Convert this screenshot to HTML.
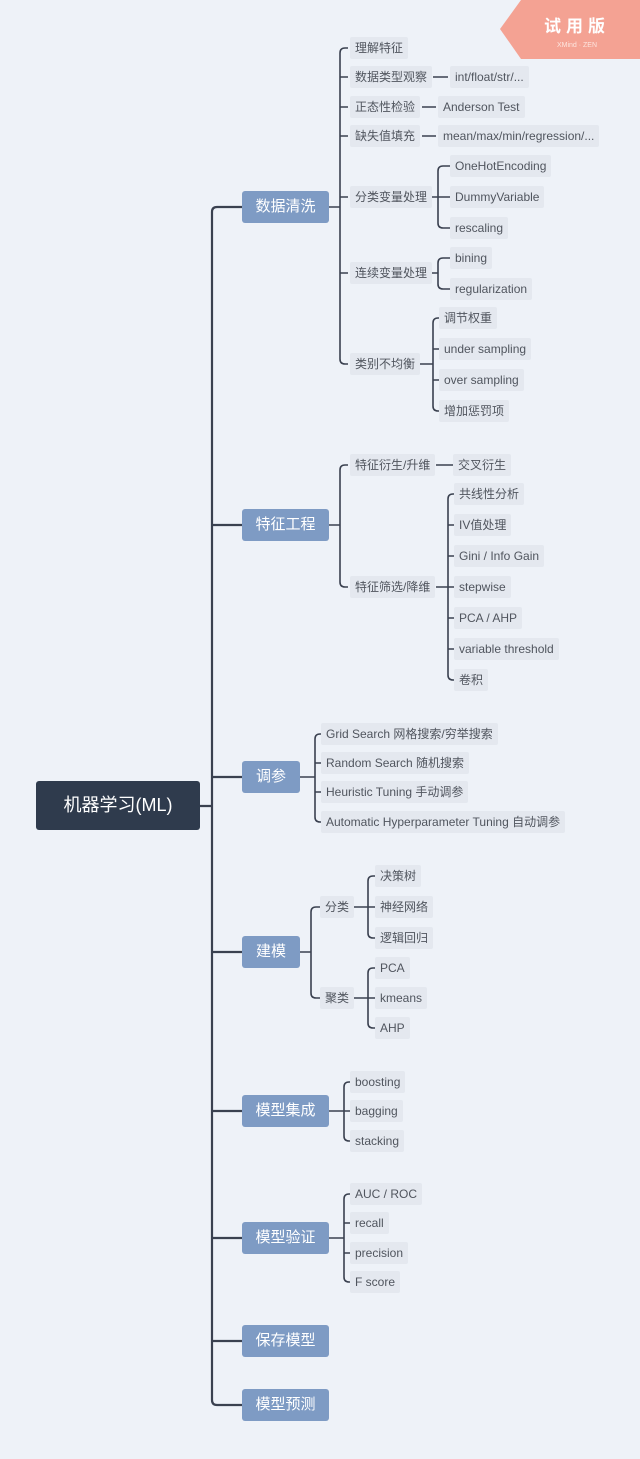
<!DOCTYPE html>
<html><head><meta charset="utf-8"><style>
body{margin:0;width:640px;height:1459px;background:#eef2f8;position:relative;overflow:hidden;font-family:"Liberation Sans","Noto Sans CJK SC",sans-serif}
svg{position:absolute;left:0;top:0}
.l{position:absolute;height:22px;line-height:22px;padding:0 5px;font-size:12px;color:#50555e;background:#e4e8ef;white-space:nowrap;border-radius:2px}
.m{position:absolute;height:32px;line-height:32px;text-align:center;color:#fff;font-size:15px;background:#7e9bc4;border-radius:3px}
.root{position:absolute;left:36px;top:781px;width:164px;height:49px;line-height:49px;text-align:center;color:#fff;font-size:18px;background:#2f3b4d;border-radius:3px}
</style></head><body>
<svg width="640" height="1459" fill="none" stroke="#3a4150" stroke-width="1.6">
<polygon points="521,0 640,0 640,59 521,59 500,29" fill="#f4a293" stroke="none"/>
<path stroke-width="2.2" d="M200 806H212M242 207H217Q212 207 212 212V1400Q212 1405 217 1405H242M212 525H242M212 777H242M212 952H242M212 1111H242M212 1238H242M212 1341H242"/>
<path d="M329 207H340M348 48H345Q340 48 340 53V359Q340 364 345 364H348M340 77H348M340 107H348M340 136H348M340 197H348M340 273H348"/>
<path d="M433 77H448M422 107H436M422 136H436"/>
<path d="M432 197H438M450 166H443Q438 166 438 171V223Q438 228 443 228H450M438 197H450"/>
<path d="M432 273H438M450 258H443Q438 258 438 263V284Q438 289 443 289H450"/>
<path d="M420 364H433M440 318H438Q433 318 433 323V406Q433 411 438 411H440M433 349H440M433 380H440"/>
<path d="M329 525H340M348 465H345Q340 465 340 470V582Q340 587 345 587H348"/>
<path d="M436 465H453M436 587H448M454 494H453Q448 494 448 499V675Q448 680 453 680H454M448 525H454M448 556H454M448 587H454M448 618H454M448 649H454"/>
<path d="M300 777H315M321 734H320Q315 734 315 739V817Q315 822 320 822H321M315 763H321M315 792H321"/>
<path d="M300 952H311M320 907H316Q311 907 311 912V993Q311 998 316 998H320"/>
<path d="M354 907H368M375 876H373Q368 876 368 881V933Q368 938 373 938H375M368 907H375"/>
<path d="M354 998H368M375 968H373Q368 968 368 973V1023Q368 1028 373 1028H375M368 998H375"/>
<path d="M329 1111H344M350 1082H349Q344 1082 344 1087V1136Q344 1141 349 1141H350M344 1111H350"/>
<path d="M329 1238H344M350 1194H349Q344 1194 344 1199V1277Q344 1282 349 1282H350M344 1223H350M344 1253H350"/>
<text x="577" y="32" fill="#fff" stroke="none" font-size="17" font-weight="bold" text-anchor="middle" font-family="Liberation Sans,Noto Sans CJK SC,sans-serif" letter-spacing="5">试用版</text>
<text x="577" y="47" fill="#fde5df" stroke="none" font-size="7" text-anchor="middle" font-family="Liberation Sans,sans-serif">XMind · ZEN</text>
</svg>
<div class="root">机器学习(ML)</div>
<div class="m" style="left:242px;top:191px;width:87px">数据清洗</div>
<div class="m" style="left:242px;top:509px;width:87px">特征工程</div>
<div class="m" style="left:242px;top:761px;width:58px">调参</div>
<div class="m" style="left:242px;top:936px;width:58px">建模</div>
<div class="m" style="left:242px;top:1095px;width:87px">模型集成</div>
<div class="m" style="left:242px;top:1222px;width:87px">模型验证</div>
<div class="m" style="left:242px;top:1325px;width:87px">保存模型</div>
<div class="m" style="left:242px;top:1389px;width:87px">模型预测</div>

<div class="l" style="left:350px;top:37px">理解特征</div>
<div class="l" style="left:350px;top:66px">数据类型观察</div>
<div class="l" style="left:450px;top:66px">int/float/str/...</div>
<div class="l" style="left:350px;top:96px">正态性检验</div>
<div class="l" style="left:438px;top:96px">Anderson Test</div>
<div class="l" style="left:350px;top:125px">缺失值填充</div>
<div class="l" style="left:438px;top:125px">mean/max/min/regression/...</div>
<div class="l" style="left:350px;top:186px">分类变量处理</div>
<div class="l" style="left:450px;top:155px">OneHotEncoding</div>
<div class="l" style="left:450px;top:186px">DummyVariable</div>
<div class="l" style="left:450px;top:217px">rescaling</div>
<div class="l" style="left:350px;top:262px">连续变量处理</div>
<div class="l" style="left:450px;top:247px">bining</div>
<div class="l" style="left:450px;top:278px">regularization</div>
<div class="l" style="left:350px;top:353px">类别不均衡</div>
<div class="l" style="left:439px;top:307px">调节权重</div>
<div class="l" style="left:439px;top:338px">under sampling</div>
<div class="l" style="left:439px;top:369px">over sampling</div>
<div class="l" style="left:439px;top:400px">增加惩罚项</div>

<div class="l" style="left:350px;top:454px">特征衍生/升维</div>
<div class="l" style="left:453px;top:454px">交叉衍生</div>
<div class="l" style="left:350px;top:576px">特征筛选/降维</div>
<div class="l" style="left:454px;top:483px">共线性分析</div>
<div class="l" style="left:454px;top:514px">IV值处理</div>
<div class="l" style="left:454px;top:545px">Gini / Info Gain</div>
<div class="l" style="left:454px;top:576px">stepwise</div>
<div class="l" style="left:454px;top:607px">PCA / AHP</div>
<div class="l" style="left:454px;top:638px">variable threshold</div>
<div class="l" style="left:454px;top:669px">卷积</div>

<div class="l" style="left:321px;top:723px">Grid Search 网格搜索/穷举搜索</div>
<div class="l" style="left:321px;top:752px">Random Search 随机搜索</div>
<div class="l" style="left:321px;top:781px">Heuristic Tuning 手动调参</div>
<div class="l" style="left:321px;top:811px">Automatic Hyperparameter Tuning 自动调参</div>

<div class="l" style="left:320px;top:896px">分类</div>
<div class="l" style="left:320px;top:987px">聚类</div>
<div class="l" style="left:375px;top:865px">决策树</div>
<div class="l" style="left:375px;top:896px">神经网络</div>
<div class="l" style="left:375px;top:927px">逻辑回归</div>
<div class="l" style="left:375px;top:957px">PCA</div>
<div class="l" style="left:375px;top:987px">kmeans</div>
<div class="l" style="left:375px;top:1017px">AHP</div>

<div class="l" style="left:350px;top:1071px">boosting</div>
<div class="l" style="left:350px;top:1100px">bagging</div>
<div class="l" style="left:350px;top:1130px">stacking</div>

<div class="l" style="left:350px;top:1183px">AUC / ROC</div>
<div class="l" style="left:350px;top:1212px">recall</div>
<div class="l" style="left:350px;top:1242px">precision</div>
<div class="l" style="left:350px;top:1271px">F score</div>
</body></html>
